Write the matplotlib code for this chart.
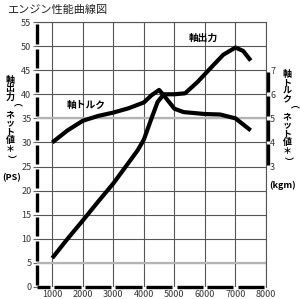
import matplotlib
matplotlib.use("Agg")
import matplotlib.pyplot as plt

plt.rcParams['font.family'] = ['Noto Sans CJK JP', 'DejaVu Sans']

# rpm / shaft power (PS)
power_rpm = [1000, 1500, 2000, 2500, 3000, 3500, 3800, 4000, 4250, 4450, 4650, 5000, 5350, 5750, 6150, 6600, 7000, 7250, 7500]
power_ps = [6, 10, 13.8, 17.7, 21.5, 25.8, 28.4, 30.6, 35, 38.4, 40, 40, 40.2, 42.5, 45.2, 48.2, 49.7, 49, 47]

# rpm / shaft torque (kgm)
torque_rpm = [1000, 1500, 2000, 2500, 3000, 3500, 4000, 4250, 4500, 4750, 5000, 5300, 6000, 6500, 7000, 7500]
torque_kgm = [4.0, 4.5, 4.9, 5.1, 5.24, 5.42, 5.66, 5.96, 6.18, 5.8, 5.4, 5.26, 5.18, 5.16, 5.0, 4.5]

x_ticks = list(range(1000, 8001, 1000))
ps_ticks = list(range(0, 56, 5))
kgm_ticks = [3, 4, 5, 6, 7]

W, H = 300, 299
fig = plt.figure(figsize=(W / 100, H / 100), dpi=100)
ax = fig.add_axes([37 / W, 12 / H, 229 / W, 265 / H])

ax.set_xlim(500, 8000)
ax.set_ylim(0, 55)
ax.set_xticks(x_ticks)
ax.set_yticks(ps_ticks)
ax.set_axisbelow(True)
ax.grid(True, color='#555555', linewidth=0.8)
# light gray reference lines
for yv in [5, 35]:
    ax.axhline(yv, color='#b4b4b4', linewidth=1.6, zorder=1)

ax.tick_params(axis='y', length=3, width=0.8, color='#666666', pad=1, labelsize=6.5, labelcolor='#333333')
ax.tick_params(axis='x', length=0, pad=2, labelsize=6.5, labelcolor='#333333')

for s in ['left', 'bottom']:
    ax.spines[s].set_visible(False)
for s in ['top', 'right']:
    ax.spines[s].set_color('#555555')
    ax.spines[s].set_linewidth(0.8)

# thick broken axis bars
for lo in ps_ticks[:-1]:
    ax.vlines(0, lo + 0.5, lo + 4.5, transform=ax.get_yaxis_transform(), color='black',
              linewidth=2.4, clip_on=False, zorder=5)
edges = [500] + x_ticks
for a, b in zip(edges[:-1], edges[1:]):
    ax.hlines(0, a + (0 if a == 500 else 70), b - 70, transform=ax.get_xaxis_transform(),
              color='black', linewidth=2.4, clip_on=False, zorder=5)

ax.plot(power_rpm, power_ps, color='black', linewidth=3, solid_joinstyle='round',
        solid_capstyle='butt', zorder=4)

ax2 = ax.twinx()
ax2.set_ylim(-2, 9)
ax2.set_yticks(kgm_ticks)
ax2.tick_params(axis='y', length=0, pad=3, labelsize=6.5, labelcolor='#333333')
for s in ax2.spines.values():
    s.set_visible(False)
for lo in kgm_ticks[:-1]:
    ax2.vlines(1.01, lo + 0.08, lo + 0.92, transform=ax2.get_yaxis_transform(), color='black',
               linewidth=2.4, clip_on=False)
ax2.plot(torque_rpm, torque_kgm, color='black', linewidth=3, solid_joinstyle='round',
         solid_capstyle='butt', zorder=4)

ax.text(5935, 51.7, '軸出力', fontsize=7, fontweight='bold', ha='center', va='center', zorder=6)
ax.text(2100, 37.8, '軸トルク', fontsize=7, fontweight='bold', ha='center', va='center', zorder=6)

fig.text(7 / W, 1 - 10 / H, 'エンジン性能曲線図', fontsize=8, color='#222222', ha='left', va='center')


def vertical_text(x, y0, chars, step):
    for i, ch in enumerate(chars):
        rot = -90 if ch in '（）' else 0
        fig.text(x / W, 1 - (y0 + i * step) / H, ch, fontsize=6.5, fontweight='bold',
                 ha='center', va='center', rotation=rot)


vertical_text(10, 80, '軸出力（ネット値＊）', 8.7)
fig.text(12 / W, 1 - 178 / H, '(PS)', fontsize=6.5, fontweight='bold', ha='center', va='center')
vertical_text(287, 74, '軸トルク（ネット値＊）', 8.6)
fig.text(283 / W, 1 - 185 / H, '(kgm)', fontsize=6.5, fontweight='bold', ha='center', va='center')

fig.savefig('out.png', dpi=100)
